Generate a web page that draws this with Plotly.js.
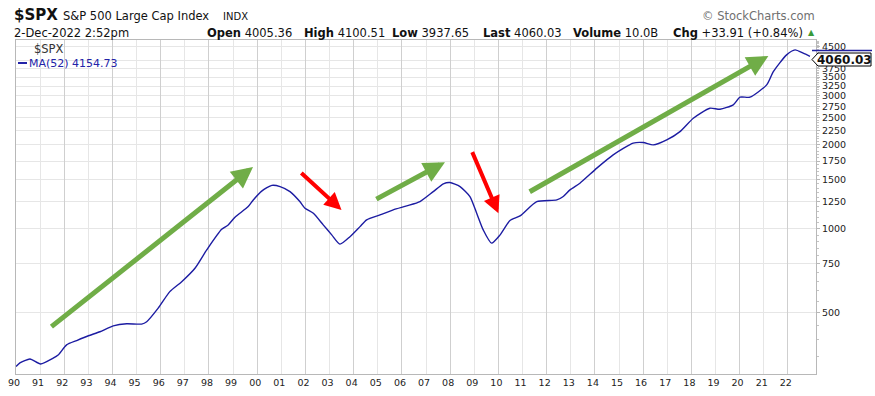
<!DOCTYPE html>
<html><head><meta charset="utf-8">
<script src="https://cdn.plot.ly/plotly-3.0.1.min.js"></script>
<style>html,body{margin:0;padding:0;background:#fff}#chart{width:875px;height:396px}</style>
</head><body><div id="chart"></div>
<script>
// ---- data (52-period moving average of $SPX) ----
const maDates = [
 '1990-01-01','1990-03-01','1990-08-01','1991-01-08','1991-07-18','1991-10-01','1992-02-06','1992-07-08',
 '1993-01-01','1993-06-25','1994-01-12','1994-08-04','1995-03-18','1995-06-03','1995-11-24','1996-05-18',
 '1996-11-14','1997-06-03','1997-11-28','1998-07-12','1998-10-19','1999-01-30','1999-08-18','1999-11-03',
 '2000-03-14','2000-08-10','2000-12-13','2001-05-12','2001-10-08','2001-12-25','2002-05-01','2002-09-27',
 '2003-02-03','2003-06-07','2003-11-06','2004-04-06','2004-07-16','2005-02-03','2005-08-22','2006-03-15',
 '2006-10-01','2007-04-20','2007-09-20','2007-12-28','2008-05-30','2008-10-27','2009-02-06','2009-05-16',
 '2009-09-20','2010-01-27','2010-06-25','2010-11-24','2011-08-04','2012-06-03','2012-09-09','2012-12-20',
 '2013-05-19','2014-01-30','2014-10-05','2015-08-04','2016-01-04','2016-06-03','2016-12-24','2017-07-12',
 '2018-01-30','2018-10-08','2019-03-10','2019-09-27','2020-01-08','2020-06-06','2021-02-14','2021-05-26',
 '2021-12-13','2022-04-20','2022-08-22','2022-12-02'
];
const maValues = [
 321,331,342,328,344,353,384,398,
 414,428,449,457,456,465,520,596,
 647,723,841,997,1033,1101,1202,1270,
 1369,1432,1418,1360,1253,1186,1138,1034,
 952,882,938,1019,1077,1122,1170,1209,
 1253,1360,1450,1466,1418,1306,1138,992,
 889,952,1071,1113,1253,1270,1306,1380,
 1458,1651,1842,2029,2039,2000,2084,2232,
 2493,2707,2685,2783,2965,2965,3282,3663,
 4205,4381,4263,4155
];
const xTickYears = ['90','91','92','93','94','95','96','97','98','99','00','01','02','03','04','05',
  '06','07','08','09','10','11','12','13','14','15','16','17','18','19','20','21','22'];
const yTickVals = [500,750,1000,1250,1500,1750,2000,2250,2500,2750,3000,3250,3500,3750,4000,4500];
const yTickText = ['500','750','1000','1250','1500','1750','2000','2250','2500','2750','3000','3250','3500','3750','','4500'];
const yMinorVals = [];
for (let v = 300; v <= 4750; v += 50) if (v % 250 !== 0) yMinorVals.push(v);

const symbol = '$SPX';
const title = 'S&P 500 Large Cap Index';
const exchange = 'INDX';
const stamp = '2-Dec-2022 2:52pm';
const quoteLabels = ['Open','High','Low','Last','Volume','Chg'];
const quoteValues = ['4005.36','4100.51','3937.65','4060.03','10.0B','+33.91 (+0.84%)'];
const lastPrice = '4060.03';
const maLabel = 'MA(52) 4154.73';

// ---- layout helpers (pixel -> paper) ----
const L = 16, R = 816, T = 40, B = 374;
const PX = p => (p - L) / (R - L);
const PY = p => (B - p) / (B - T);
const FONT = 'DejaVu Sans, Verdana, sans-serif';
const xRange = ['1990-01-01', '2023-03-03'];
const yRange = [2.48, 3.677];
const xTickVals = xTickYears.map((y, i) => (1990 + i) + '-01-01');
const xEvenVals = xTickVals.filter((d, i) => i % 2 === 0);

const traces = [
  {x: maDates, y: maValues, type: 'scatter', mode: 'lines',
   line: {color: '#1c1ca2', width: 1.4, shape: 'spline', smoothing: 0.6},
   hoverinfo: 'x+y', xaxis: 'x', yaxis: 'y'},
  {x: [maDates[0]], y: [maValues[0]], type: 'scatter', mode: 'markers',
   marker: {opacity: 0}, hoverinfo: 'skip', xaxis: 'x2', yaxis: 'y2'}
];

const ann = [];
function txt(text, x, y, size, opts) {
  ann.push(Object.assign({text: text, xref: 'paper', yref: 'paper', x: PX(x), y: PY(y),
    xanchor: 'left', yanchor: 'middle', showarrow: false,
    font: {family: FONT, size: size, color: '#111'}}, opts || {}));
}
txt('<b>' + symbol + '</b>', 12, 15, 15);
txt(title, 61, 16, 11.5);
txt(exchange, 221, 16.5, 10);
txt(stamp, 12, 33, 11.5);
const qx = [205, 302, 390, 481, 571, 671];
quoteLabels.forEach((lab, i) => txt('<b>' + lab + '</b> ' + quoteValues[i], qx[i], 33, 11.5));
txt('▲', 806, 32.5, 8, {font: {family: FONT, size: 8, color: '#3a9a3a'}});
txt('© StockCharts.com', 817, 16, 11.5, {xanchor: 'right', font: {family: FONT, size: 11.5, color: '#707070'}});
txt(symbol, 32, 49, 11.5, {font: {family: FONT, size: 11.5, color: '#333'}});
txt(maLabel, 27, 63, 11, {font: {family: FONT, size: 11, color: '#2323a8'}});
txt('<b>' + lastPrice + '</b>', 844.5, 59.5, 12, {xanchor: 'center'});

// trend arrows
const arrows = [
  {tail: ['1991-05-30', 442], tip: ['1999-10-30', 1668], color: '#70ad47', w: 5},
  {tail: ['2004-11-17', 1270], tip: ['2007-10-15', 1734], color: '#70ad47', w: 5},
  {tail: ['2011-03-28', 1349], tip: ['2021-03-12', 4169], color: '#70ad47', w: 5},
  {tail: ['2001-10-08', 1605], tip: ['2003-07-01', 1170], color: '#ff0000', w: 4},
  {tail: ['2008-11-21', 1908], tip: ['2010-01-01', 1138], color: '#ff0000', w: 4}
];
arrows.forEach(a => ann.push({
  x: a.tip[0], y: Math.log10(a.tip[1]), ax: a.tail[0], ay: Math.log10(a.tail[1]),
  xref: 'x', yref: 'y', axref: 'x', ayref: 'y', text: '', showarrow: true,
  arrowhead: 2, arrowsize: 0.85, arrowwidth: a.w, arrowcolor: a.color, standoff: 0
}));

const shapes = [
  {type: 'line', xref: 'paper', yref: 'paper', x0: PX(18), x1: PX(27), y0: PY(63), y1: PY(63),
   line: {color: '#2323a8', width: 2}},
  {type: 'line', xref: 'paper', yref: 'paper', x0: PX(812), x1: PX(872), y0: PY(50.5), y1: PY(50.5),
   line: {color: '#2020a0', width: 1.5}},
  {type: 'path', xref: 'paper', yref: 'paper', layer: 'above',
   path: 'M' + PX(818) + ',' + PY(53) + ' L' + PX(871) + ',' + PY(53) + ' L' + PX(871) + ',' + PY(66) +
         ' L' + PX(818) + ',' + PY(66) + ' L' + PX(812) + ',' + PY(59.5) + ' Z',
   fillcolor: '#ffffff', line: {color: '#000', width: 1}}
];

const layout = {
  width: 875, height: 396, margin: {l: L, r: 875 - R, t: T, b: 396 - B, pad: 0},
  paper_bgcolor: '#fff', plot_bgcolor: '#fff', showlegend: false,
  font: {family: FONT, size: 10, color: '#222'},
  xaxis: {type: 'date', range: xRange, tickmode: 'array', tickvals: xTickVals, ticktext: xTickYears,
    showgrid: true, gridcolor: '#e6e6e6', gridwidth: 1, showline: true, linecolor: '#b8b8b8',
    mirror: true, ticks: '', ticklabelshift: -2, tickfont: {family: FONT, size: 9.5, color: '#222'}, fixedrange: true},
  xaxis2: {type: 'date', overlaying: 'x', range: xRange, tickmode: 'array', tickvals: xEvenVals,
    showgrid: true, gridcolor: '#cfcfcf', gridwidth: 1, showticklabels: false, ticks: '', showline: false},
  yaxis: {type: 'log', side: 'right', range: yRange, tickmode: 'array', tickvals: yTickVals, ticktext: yTickText,
    showgrid: true, gridcolor: '#e6e6e6', showline: true, linecolor: '#b8b8b8', mirror: true,
    ticks: 'outside', ticklen: 3, tickcolor: '#b8b8b8', tickfont: {family: FONT, size: 9.5, color: '#222'},
    fixedrange: true},
  yaxis2: {type: 'log', side: 'right', overlaying: 'y', range: yRange, tickmode: 'array', tickvals: yMinorVals,
    showticklabels: false, ticks: 'outside', ticklen: 2, tickcolor: '#c4c4c4', showgrid: false, showline: false},
  annotations: ann,
  shapes: shapes
};
Plotly.newPlot('chart', traces, layout, {displayModeBar: false, staticPlot: true});
</script></body></html>
